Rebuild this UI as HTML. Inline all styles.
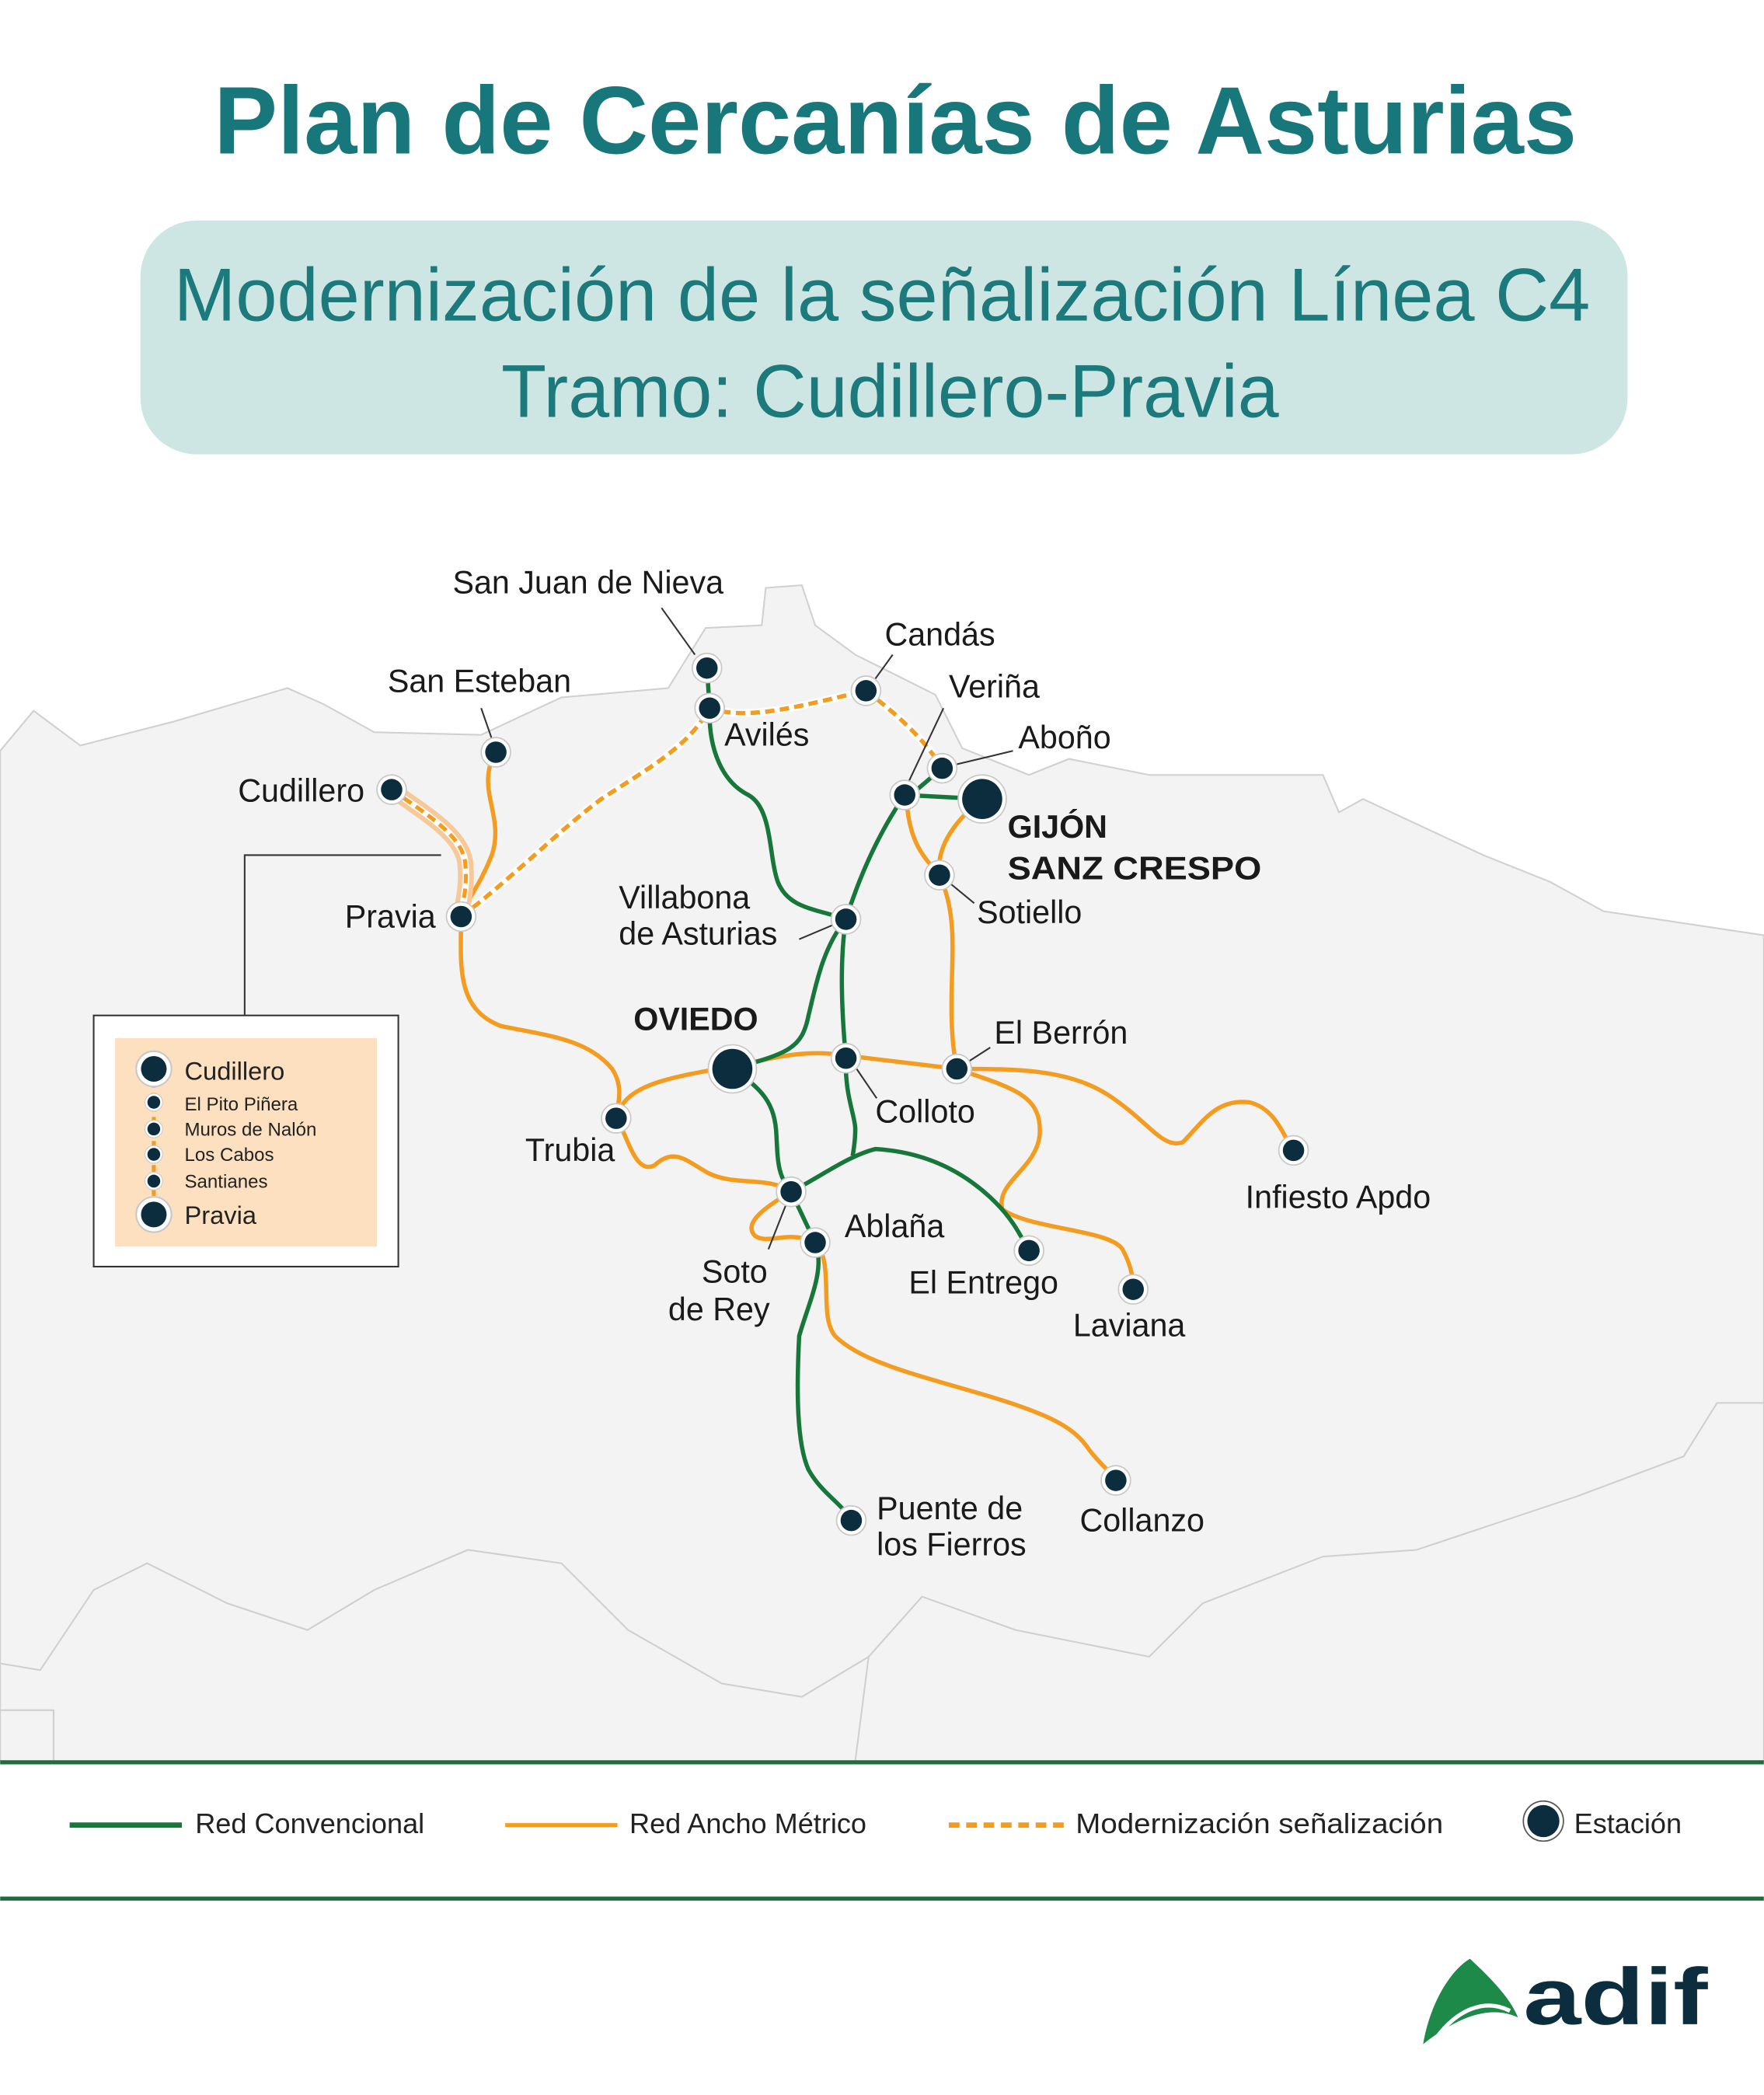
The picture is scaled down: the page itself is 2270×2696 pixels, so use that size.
<!DOCTYPE html>
<html><head><meta charset="utf-8"><style>
html,body{margin:0;padding:0;background:#fff}
svg{display:block}
text{font-family:"Liberation Sans",sans-serif}
</style></head><body>
<svg width="2270" height="2696" viewBox="0 0 1320 1568" xmlns="http://www.w3.org/2000/svg">
<defs>
<g id="st"><circle r="11" fill="#fff" stroke="#c8c8c8" stroke-width="1"/><circle r="8" fill="#0b2d3e"/></g>
<g id="bst"><circle r="18" fill="#fff" stroke="#c8c8c8" stroke-width="1"/><circle r="15" fill="#0b2d3e"/></g>
</defs>
<rect width="1320" height="1568" fill="#fff"/>
<text x="160" y="115" font-size="72" font-weight="bold" fill="#17777a" textLength="1020" lengthAdjust="spacingAndGlyphs">Plan de Cercanías de Asturias</text>
<rect x="105" y="165" width="1113" height="175" rx="42" fill="#cde6e3"/>
<text x="130" y="240" font-size="56" fill="#1d7a7c" textLength="1060" lengthAdjust="spacingAndGlyphs">Modernización de la señalización Línea C4</text>
<text x="375" y="312" font-size="56" fill="#1d7a7c" textLength="582" lengthAdjust="spacingAndGlyphs">Tramo: Cudillero-Pravia</text>

<!-- map land -->
<path d="M0,1318 L0,562 L25,532 L60,558 L130,540 L215,515 L242,527 L280,548 L360,550 L420,522 L500,515 L528,470 L570,468 L573,440 L600,438 L610,468 L640,490 L700,520 L720,560 L770,580 L800,568 L860,580 L990,580 L1002,608 L1020,598 L1050,612 L1110,640 L1160,660 L1200,682 L1320,700 L1320,1318 Z" fill="#f3f3f3" stroke="#d0d0d0" stroke-width="1.2"/>
<path d="M0,1245 L30,1250 L70,1190 L110,1170 L170,1200 L230,1220 L280,1190 L350,1160 L420,1170 L470,1220 L540,1260 L600,1270 L650,1240 L690,1195 L760,1220 L860,1240 L900,1200 L990,1165 L1060,1160 L1180,1120 L1260,1090 L1285,1050 L1320,1050" fill="none" stroke="#cfcfcf" stroke-width="1.2"/>
<path d="M0,1280 L40,1280 L40,1318 M650,1240 L640,1318" fill="none" stroke="#cfcfcf" stroke-width="1.2"/>

<!-- callout -->
<path d="M183,760 L183,640 L330,640" fill="none" stroke="#333" stroke-width="1.2"/>
<rect x="70" y="760" width="228" height="188" fill="#fff" stroke="#333" stroke-width="1.2"/>
<rect x="86" y="777" width="196" height="156" fill="#fde0c0"/>
<line x1="115" y1="800" x2="115" y2="910" stroke="#f39c1f" stroke-width="3" stroke-dasharray="5 4"/>
<use href="#st" x="115" y="800" transform="translate(115,800) scale(1.2) translate(-115,-800)"/>
<use href="#st" x="115" y="825" transform="translate(115,825) scale(0.6) translate(-115,-825)"/>
<use href="#st" x="115" y="845" transform="translate(115,845) scale(0.6) translate(-115,-845)"/>
<use href="#st" x="115" y="864" transform="translate(115,864) scale(0.6) translate(-115,-864)"/>
<use href="#st" x="115" y="884" transform="translate(115,884) scale(0.6) translate(-115,-884)"/>
<use href="#st" x="115" y="909" transform="translate(115,909) scale(1.2) translate(-115,-909)"/>
<text x="138" y="808" font-size="19" fill="#222">Cudillero</text>
<text x="138" y="831" font-size="14" fill="#222">El Pito Piñera</text>
<text x="138" y="850" font-size="14" fill="#222">Muros de Nalón</text>
<text x="138" y="869" font-size="14" fill="#222">Los Cabos</text>
<text x="138" y="889" font-size="14" fill="#222">Santianes</text>
<text x="138" y="916" font-size="19" fill="#222">Pravia</text>

<!-- orange lines -->
<g fill="none" stroke="#f39c1f" stroke-width="3.2" stroke-linejoin="round">
<path d="M371,563 C355,590 378,610 368,640 C358,665 348,675 345,686"/>
<path d="M345,686 C345,720 340,755 375,768 C410,775 440,778 458,800 C468,815 461,830 461,837"/>
<path d="M465,828 C475,810 510,805 548,798 C580,792 600,785 633,790 L716,800"/>
<path d="M716,800 C760,800 800,800 830,820 C860,840 870,860 885,855 C900,840 910,822 935,825 C955,830 960,850 968,861"/>
<path d="M716,800 C760,815 780,820 778,850 C775,875 745,885 750,905 C770,920 830,920 840,935 C848,950 848,960 848,965"/>
<path d="M716,800 C708,760 715,720 712,690 C710,670 705,660 703,655"/>
<path d="M703,655 C690,640 680,630 678,595"/>
<path d="M703,655 C700,630 720,610 735,598"/>
<path d="M461,837 C470,850 475,880 490,872 C505,858 515,870 530,878 C550,888 575,880 592,892"/>
<path d="M592,892 C575,902 555,915 565,925 C575,932 590,920 610,930"/>
<path d="M610,930 C625,945 612,985 625,1000 C645,1020 690,1030 740,1045 C790,1060 805,1070 815,1085 C825,1098 832,1102 835,1108"/>
</g>
<path d="M293,591 C320,610 345,625 348,645 C350,665 346,675 345,686" fill="none" stroke="#f7c99a" stroke-width="12" stroke-linecap="round"/>
<path d="M293,591 C320,610 345,625 348,645 C350,665 346,675 345,686" fill="none" stroke="#fff" stroke-width="5"/>
<path d="M293,591 C320,610 345,625 348,645 C350,665 346,675 345,686" fill="none" stroke="#f39c1f" stroke-width="3" stroke-dasharray="7 4"/>
<g fill="none" stroke-linejoin="round">
<path d="M345,686 C380,660 420,620 450,598 C480,578 515,560 531,530 C560,540 600,528 648,517 C665,530 690,550 705,575" stroke="#fff" stroke-width="6"/>
<path d="M345,686 C380,660 420,620 450,598 C480,578 515,560 531,530 C560,540 600,528 648,517 C665,530 690,550 705,575" stroke="#f39c1f" stroke-width="3.2" stroke-dasharray="7 4"/>
</g>
<g fill="none" stroke="#17773a" stroke-width="3.2" stroke-linejoin="round">
<path d="M529,500 L531,530 C530,560 540,585 560,595 C578,605 575,640 582,660 C590,680 610,680 633,688"/>
<path d="M633,688 C615,710 610,740 605,760 C600,785 590,788 548,800"/>
<path d="M633,688 C628,720 630,760 633,792 C632,820 640,835 640,845 C640,855 638,865 638,865"/>
<path d="M592,892 C615,880 635,865 655,860 C690,862 720,875 745,900 C760,915 765,928 770,936"/>
<path d="M548,800 C570,815 580,825 581,850 C582,870 582,880 592,892 L610,930 C618,950 605,975 598,1000 C596,1040 596,1080 605,1100 C615,1118 630,1125 637,1138"/>
<path d="M633,688 C645,650 660,620 677,595 L735,598"/>
<path d="M685,592 L705,575"/>
</g>

<g stroke="#333" stroke-width="1.2">
<line x1="495" y1="455" x2="520" y2="490"/>
<line x1="668" y1="490" x2="655" y2="508"/>
<line x1="360" y1="530" x2="368" y2="553"/>
<line x1="706" y1="530" x2="680" y2="585"/>
<line x1="758" y1="562" x2="716" y2="572"/>
<line x1="729" y1="676" x2="712" y2="662"/>
<line x1="598" y1="703" x2="624" y2="692"/>
<line x1="656" y1="822" x2="641" y2="800"/>
<line x1="741" y1="784" x2="724" y2="795"/>
<line x1="575" y1="935" x2="588" y2="902"/>
</g>

<use href="#st" x="529" y="500"/><use href="#st" x="531" y="530"/><use href="#st" x="648" y="517"/>
<use href="#st" x="371" y="563"/><use href="#st" x="293" y="591"/><use href="#st" x="677" y="595"/>
<use href="#st" x="705" y="575"/><use href="#bst" x="735" y="598"/><use href="#st" x="703" y="655"/>
<use href="#st" x="345" y="686"/><use href="#st" x="633" y="688"/><use href="#bst" x="548" y="800"/>
<use href="#st" x="633" y="792"/><use href="#st" x="716" y="800"/><use href="#st" x="461" y="837"/>
<use href="#st" x="968" y="861"/><use href="#st" x="592" y="892"/><use href="#st" x="610" y="930"/>
<use href="#st" x="770" y="936"/><use href="#st" x="848" y="965"/><use href="#st" x="835" y="1108"/>
<use href="#st" x="637" y="1138"/>

<g font-size="24" fill="#1a1a1a">
<text x="440" y="444" text-anchor="middle">San Juan de Nieva</text>
<text x="542" y="558">Avilés</text>
<text x="662" y="483">Candás</text>
<text x="290" y="518">San Esteban</text>
<text x="178" y="600">Cudillero</text>
<text x="710" y="522">Veriña</text>
<text x="762" y="560">Aboño</text>
<text x="754" y="627" font-weight="bold">GIJÓN</text>
<text x="754" y="658" font-weight="bold" textLength="190" lengthAdjust="spacingAndGlyphs">SANZ CRESPO</text>
<text x="731" y="691">Sotiello</text>
<text x="258" y="694">Pravia</text>
<text x="463" y="680">Villabona</text>
<text x="463" y="707">de Asturias</text>
<text x="474" y="771" font-weight="bold">OVIEDO</text>
<text x="655" y="840">Colloto</text>
<text x="744" y="781">El Berrón</text>
<text x="393" y="869">Trubia</text>
<text x="932" y="904">Infiesto Apdo</text>
<text x="525" y="960">Soto</text>
<text x="500" y="988">de Rey</text>
<text x="632" y="926">Ablaña</text>
<text x="680" y="968">El Entrego</text>
<text x="803" y="1000">Laviana</text>
<text x="808" y="1146">Collanzo</text>
<text x="656" y="1137">Puente de</text>
<text x="656" y="1164">los Fierros</text>
</g>

<line x1="0" y1="1319" x2="1320" y2="1319" stroke="#1e6e3c" stroke-width="3"/>
<line x1="0" y1="1421" x2="1320" y2="1421" stroke="#1e6e3c" stroke-width="3"/>
<line x1="52" y1="1366" x2="136" y2="1366" stroke="#17773a" stroke-width="4"/>
<text x="146" y="1372" font-size="21" fill="#222">Red Convencional</text>
<line x1="378" y1="1366" x2="462" y2="1366" stroke="#f39c1f" stroke-width="3"/>
<text x="471" y="1372" font-size="21" fill="#222">Red Ancho Métrico</text>
<line x1="710" y1="1366" x2="796" y2="1366" stroke="#f39c1f" stroke-width="4" stroke-dasharray="8 5"/>
<text x="805" y="1372" font-size="21" fill="#222" textLength="275" lengthAdjust="spacingAndGlyphs">Modernización señalización</text>
<circle cx="1155" cy="1363" r="15" fill="#fff" stroke="#555" stroke-width="1"/>
<circle cx="1155" cy="1363" r="12" fill="#0b2d3e"/>
<text x="1178" y="1372" font-size="21" fill="#222">Estación</text>

<path d="M1065,1530 C1070,1500 1085,1475 1100,1466 C1115,1480 1130,1495 1136,1510 C1115,1500 1090,1510 1065,1530 Z" fill="#1d8a4a"/>
<path d="M1075,1525 C1090,1505 1110,1495 1130,1505" fill="none" stroke="#fff" stroke-width="3"/>
<text x="1140" y="1515" font-size="60" font-weight="bold" fill="#0b2d3e" textLength="138" lengthAdjust="spacingAndGlyphs">adif</text>
</svg>
</body></html>
